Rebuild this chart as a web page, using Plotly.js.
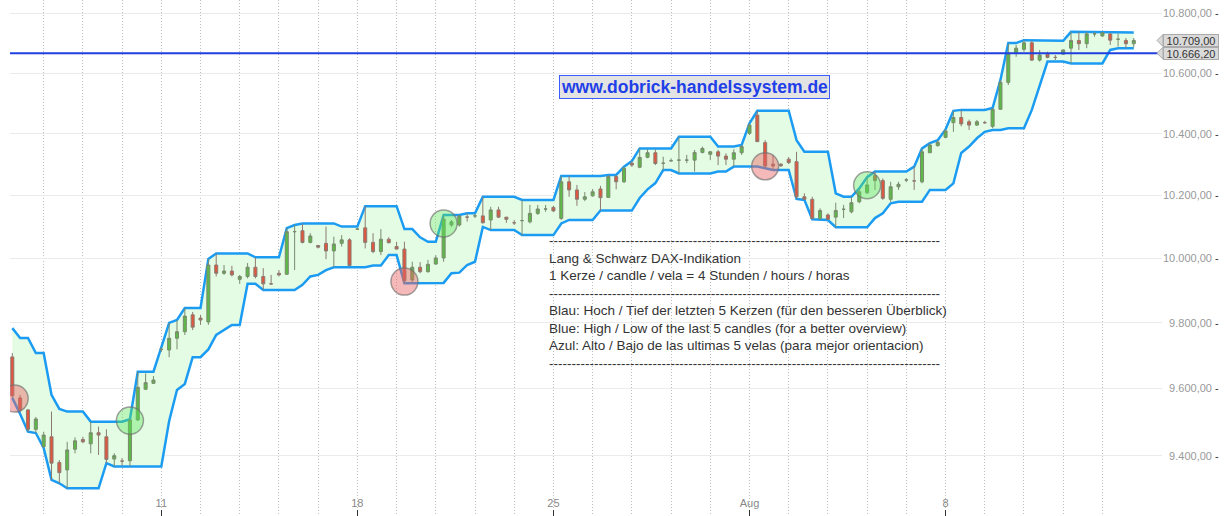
<!DOCTYPE html>
<html>
<head>
<meta charset="utf-8">
<script src="https://cdn.plot.ly/plotly-3.0.1.min.js"></script>
<style>html,body{margin:0;padding:0;background:#fff;}#chart{width:1226px;height:516px;}</style>
</head>
<body>
<div id="chart"></div>
<script>
// 4-hour candles, DAX L&S indication, July 5 – Aug 12, 2016 (index = candle number)
const openP = [9696,9572,9536,9478,9427,9456,9380,9358,9419,9448,9435,9468,9456,9390,9384,9385,9506,9598,9616,9719,
9717,9753,9773,9825,9815,9803,9980,9954,9961,9935,9944,9973,9944,9921,9954,9951,10085,10088,10051,10041,
10048,10024,10048,10059,10093,10097,10051,10022,10061,10038,10030,9933,9973,9959,9983,10002,10106,10106,10131,10135,
10135,10122,10154,10131,10113,10120,10116,10143,10157,10162,10127,10244,10218,10188,10199,10221,10194,10261,10244,10304,
10291,10323,10338,10304,10312,10314,10314,10314,10339,10333,10341,10327,10317,10338,10401,10461,10371,10301,10301,10317,
10309,10196,10188,10127,10138,10131,10156,10148,10180,10209,10264,10248,10188,10228,10250,10247,10244,10338,10361,10388,
10436,10453,10439,10428,10436,10424,10480,10569,10666,10679,10701,10643,10663,10652,10663,10683,10709,10698,10731,10724,
10731,10713,10709,10698];
const highP = [9708,9581,9539,9515,9471,9531,9387,9441,9454,9456,9501,9486,9478,9407,9393,9508,9651,9646,9638,9725,
9800,9809,9846,9834,9825,9999,10016,9980,9977,9949,9986,10004,9970,9949,9964,10096,10106,10111,10080,10043,
10101,10069,10074,10064,10097,10166,10080,10093,10067,10053,10053,9990,9989,9996,10011,10138,10122,10138,10143,10141,
10196,10164,10164,10131,10122,10186,10170,10170,10170,10167,10263,10263,10234,10211,10221,10231,10266,10266,10293,10311,
10352,10349,10349,10325,10320,10390,10331,10347,10358,10344,10347,10336,10349,10363,10434,10475,10379,10331,10304,10324,
10341,10207,10196,10159,10143,10177,10170,10196,10223,10259,10277,10255,10244,10244,10256,10293,10352,10369,10379,10414,
10475,10478,10446,10445,10442,10484,10577,10700,10694,10710,10708,10677,10671,10660,10679,10738,10738,10738,10738,10736,
10733,10732,10717,10717];
const lowP = [9572,9530,9471,9467,9423,9329,9319,9304,9407,9437,9407,9402,9378,9368,9370,9368,9503,9596,9614,9711,
9695,9719,9763,9778,9794,9794,9944,9949,9944,9921,9938,9938,9902,9918,9944,9949,9964,10048,10048,10032,
9998,9973,10038,9978,10090,10032,10017,10011,10048,10029,9923,9924,9954,9956,9980,9990,10100,10101,10117,10128,
10111,10090,10128,10113,10106,10074,10111,10138,10148,10147,10122,10196,10167,10182,10196,10152,10192,10220,10240,10292,
10288,10320,10298,10282,10309,10271,10304,10277,10336,10314,10298,10298,10293,10331,10396,10373,10288,10282,10292,10301,
10189,10186,10124,10122,10122,10099,10128,10143,10175,10205,10218,10186,10180,10218,10243,10218,10239,10337,10358,10385,
10406,10424,10412,10426,10432,10418,10478,10560,10654,10671,10640,10638,10649,10643,10660,10632,10677,10683,10721,10721,
10694,10688,10683,10686];
const closeP = [9578,9536,9478,9509,9461,9378,9350,9417,9444,9441,9468,9461,9389,9400,9384,9506,9604,9618,9626,9719,
9753,9773,9821,9787,9809,9980,9954,9961,9949,9944,9973,9944,9921,9921,9949,10085,10085,10051,10071,10036,
10024,10046,10059,9978,10093,10051,10022,10061,10050,10030,9931,9973,9959,9982,10002,10125,10116,10135,10131,10135,
10113,10154,10131,10124,10113,10120,10143,10157,10157,10151,10244,10218,10188,10196,10212,10193,10261,10244,10288,10298,
10323,10338,10303,10304,10312,10314,10314,10339,10352,10341,10327,10317,10338,10358,10428,10374,10295,10295,10296,10306,
10196,10188,10127,10152,10124,10152,10156,10177,10212,10234,10248,10191,10228,10236,10250,10247,10341,10363,10372,10409,
10453,10432,10428,10439,10436,10480,10569,10666,10683,10701,10643,10660,10652,10652,10677,10709,10698,10731,10731,10735,
10710,10713,10698,10709];
// Blue band: high / low of the last 5 candles
const upperBand = [9784,9754,9754,9708,9708,9581,9539,9531,9531,9531,9501,9501,9501,9501,9501,9508,9651,9651,9651,9725,
9800,9809,9846,9846,9846,9999,10016,10016,10016,10016,10016,10004,10004,10004,10004,10096,10106,10111,10111,10111,
10111,10111,10101,10101,10101,10166,10166,10166,10166,10166,10093,10093,10067,10053,10053,10138,10138,10138,10143,10143,
10196,10196,10196,10196,10196,10186,10186,10186,10186,10186,10263,10263,10263,10263,10263,10263,10266,10266,10293,10311,
10352,10352,10352,10352,10352,10390,10390,10390,10390,10390,10358,10358,10358,10363,10434,10475,10475,10475,10475,10475,
10379,10341,10341,10341,10341,10207,10196,10196,10223,10259,10277,10277,10277,10277,10277,10293,10352,10369,10379,10414,
10475,10478,10478,10478,10478,10484,10577,10700,10700,10710,10710,10710,10710,10710,10708,10738,10738,10738,10738,10738,
10738,10738,10738,10736];
const lowerBand = [9572,9524,9471,9467,9423,9329,9319,9304,9304,9304,9304,9304,9378,9368,9368,9368,9368,9368,9368,9368,
9503,9596,9614,9695,9695,9719,9763,9778,9794,9794,9921,9921,9902,9902,9902,9902,9902,9918,9944,9949,
9964,9973,9973,9973,9973,9973,9978,9978,10011,10011,9923,9923,9923,9923,9923,9924,9954,9956,9980,9990,
10100,10090,10090,10090,10090,10074,10074,10074,10074,10074,10111,10122,10122,10122,10122,10152,10152,10152,10152,10152,
10192,10220,10240,10282,10282,10271,10271,10271,10271,10271,10277,10277,10293,10293,10293,10293,10288,10282,10282,10282,
10189,10186,10124,10122,10122,10099,10099,10099,10099,10099,10128,10143,10175,10180,10180,10180,10180,10218,10218,10218,
10239,10337,10358,10385,10406,10412,10412,10418,10418,10418,10478,10560,10638,10638,10638,10632,10632,10632,10632,10632,
10677,10683,10683,10683];
// Signals (circles)
const signalIdx   = [0.3, 15, 50, 55, 96, 109];
const signalPrice = [9570, 9504, 9928, 10111, 10294, 10233];
const signalSide  = ['sell','buy','sell','buy','sell','buy'];
// Axes
const dayTickIdx  = [19, 44, 69, 94, 119];
const dayTickText = ['11', '18', '25', 'Aug', '8'];
const priceTicks  = [9400, 9600, 9800, 10000, 10200, 10400, 10600, 10800];
const levelLine   = 10666.20;
const lastPrice   = 10709.00;

const idx = closeP.map((_, i) => i);
const dayGrid = [];
for (let d = 4; d < closeP.length; d += 5) dayGrid.push(d);

function fmt(v) {
  const s = v.toFixed(2).split('.');
  const intPart = s[0].replace(/\B(?=(\d{3})+(?!\d))/g, '.');
  return intPart + ',' + s[1];
}
const FS = '\u2007';
const tickText = priceTicks.map(v => (v < 10000 ? FS : '') + fmt(v) + ' <span style="color:#333">-</span>');

const FONT = 'Liberation Sans, Arial, sans-serif';
const xRange = [-0.293, 146.6];
const yRange = [Math.log10(9223.6), Math.log10(10845.8)];

const traces = [
  {type:'scatter', mode:'lines', x: idx, y: lowerBand, xaxis:'x', yaxis:'y',
   line:{color:'#1b9cf2', width:2.5}, hoverinfo:'skip'},
  {type:'scatter', mode:'lines', x: idx, y: upperBand, xaxis:'x', yaxis:'y',
   line:{color:'#1b9cf2', width:2.5}, fill:'tonexty', fillcolor:'rgb(228,252,228)', hoverinfo:'skip'},
  {type:'candlestick', x: idx, open: openP, high: highP, low: lowP, close: closeP,
   xaxis:'x2', yaxis:'y2', whiskerwidth:0,
   increasing:{line:{color:'#7a8a6e', width:1}, fillcolor:'#5cb947'},
   decreasing:{line:{color:'#8c7a70', width:1}, fillcolor:'#e2553e'}},
  {type:'scatter', mode:'markers', x: signalIdx, y: signalPrice, xaxis:'x2', yaxis:'y2',
   marker:{size:27,
     color: signalSide.map(s => s === 'sell' ? 'rgba(235,100,100,0.45)' : 'rgba(90,230,90,0.4)'),
     line:{color:'rgba(110,110,110,0.65)', width:1.5}}, hoverinfo:'skip'}
];

const layout = {
  width:1226, height:516,
  margin:{l:10, r:64, t:0, b:0},
  paper_bgcolor:'#ffffff', plot_bgcolor:'#ffffff',
  showlegend:false,
  font:{family:FONT, size:11, color:'#888'},
  boxgap:0.45,
  xaxis:{range:xRange, tickmode:'array', tickvals:dayTickIdx, ticktext:dayTickText,
    showgrid:true, gridcolor:'#bdbdbd', griddash:'1px,2px', gridwidth:1,
    ticks:'inside', ticklen:6, tickcolor:'#333', tickwidth:1, ticklabelposition:'inside',
    tickfont:{family:FONT, size:11, color:'#888'}, zeroline:false, showline:false,
    minor:{tickmode:'array', tickvals:dayGrid, showgrid:true, gridcolor:'#bdbdbd', griddash:'1px,2px', ticks:''},
    rangeslider:{visible:false}, fixedrange:true},
  yaxis:{type:'log', range:yRange, side:'right', tickmode:'array', tickvals:priceTicks, ticktext:tickText,
    showgrid:true, gridcolor:'#ebebeb', gridwidth:1, ticks:'', zeroline:false, showline:false,
    tickfont:{family:FONT, size:11, color:'#999'}, fixedrange:true},
  xaxis2:{overlaying:'x', anchor:'y2', range:xRange, visible:false, showgrid:false, rangeslider:{visible:false}},
  yaxis2:{overlaying:'y', anchor:'x2', type:'log', range:yRange, visible:false, showgrid:false},
  shapes:[
    {type:'line', xref:'paper', yref:'y', x0:0, x1:1, y0:levelLine, y1:levelLine,
     line:{color:'#1f3fdf', width:2}, layer:'above'},
    {type:'path', xref:'paper', yref:'y', xsizemode:'pixel', ysizemode:'pixel', xanchor:1, yanchor:lastPrice,
     path:'M -5,0 L 1,6 L 1,-6 Z', fillcolor:'#dadada', line:{color:'#aaa', width:1}},
    {type:'path', xref:'paper', yref:'y', xsizemode:'pixel', ysizemode:'pixel', xanchor:1, yanchor:levelLine,
     path:'M -5,0 L 1,6 L 1,-6 Z', fillcolor:'#dadada', line:{color:'#aaa', width:1}}
  ],
  annotations:[
    {xref:'paper', yref:'paper', x:0.5938, y:0.8314, xanchor:'center', yanchor:'middle', showarrow:false,
     text:'www.dobrick-handelssystem.de', font:{family:FONT, size:17.5, color:'#1f3fe8', weight:'bold'},
     bgcolor:'#e3e3e3', bordercolor:'#3b5bff', borderwidth:1, borderpad:1},
    {xref:'paper', yref:'paper', x:0.4661, y:0.5523, xanchor:'left', yanchor:'top', align:'left', showarrow:false,
     font:{family:FONT, size:13.5, color:'#333'},
     text:[
       '-'.repeat(87),
       'Lang &amp; Schwarz DAX-Indikation',
       '1 Kerze / candle / vela = 4 Stunden / hours / horas',
       '-'.repeat(87),
       'Blau: Hoch / Tief der letzten 5 Kerzen (für den besseren Überblick)',
       'Blue: High / Low of the last 5 candles (for a better overview)',
       'Azul: Alto / Bajo de las ultimas 5 velas (para mejor orientacion)',
       '-'.repeat(87)
     ].join('<br>')},
    {xref:'paper', yref:'y', x:1.0009, y:Math.log10(lastPrice), xanchor:'left', yanchor:'middle', showarrow:false,
     text:fmt(lastPrice), font:{family:FONT, size:11, color:'#333'}, bgcolor:'#dadada', bordercolor:'#aaa',
     borderwidth:1, borderpad:0, height:11, width:54},
    {xref:'paper', yref:'y', x:1.0009, y:Math.log10(levelLine), xanchor:'left', yanchor:'middle', showarrow:false,
     text:fmt(levelLine), font:{family:FONT, size:11, color:'#333'}, bgcolor:'#dadada', bordercolor:'#aaa',
     borderwidth:1, borderpad:0, height:11, width:54}
  ]
};

Plotly.newPlot('chart', traces, layout, {displayModeBar:false, staticPlot:true});
</script>
</body>
</html>
